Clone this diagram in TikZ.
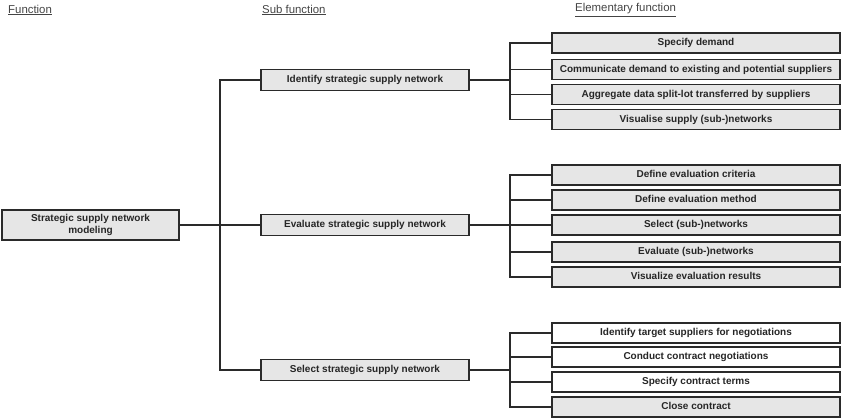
\documentclass[tikz,border=0pt]{standalone}
\usepackage{fontspec}
\setmainfont{Liberation Sans}
\usetikzlibrary{shadows,calc}
\definecolor{boxfill}{HTML}{E6E6E6}
\definecolor{boxline}{HTML}{2A2A2A}
\definecolor{headgray}{HTML}{444444}
\begin{document}
\begin{tikzpicture}[x=1pt,y=-1pt,
  box/.style={draw=boxline,line width=1.2pt,fill=boxfill,inner sep=0pt,
    font=\fontsize{10}{11.5}\selectfont\bfseries,text=black!85,align=center,
    drop shadow={shadow xshift=0.9pt,shadow yshift=-0.9pt,fill=black,opacity=0.6}},
  mainbox/.style={box,minimum width=177pt,minimum height=30pt},
  subbox/.style={box,minimum width=208pt,minimum height=21pt,text height=7.4pt,text depth=2pt},
  elbox/.style={box,minimum width=288pt,minimum height=20pt,text height=7.4pt,text depth=2pt},
  wbox/.style={elbox,fill=white},
  head/.style={font=\fontsize{11.4}{13}\selectfont,text=headgray,anchor=west,inner sep=0pt},
  conn/.style={draw=boxline,line width=1.2pt}]
\useasboundingbox (0,0) rectangle (850,417);
\node[head] (h1) at (8,10) {\underline{Function}};
\node[head] (h2) at (262,10) {\underline{Sub function}};
\node[head] (h3) at (575,10) {\underline{Elementary function}};
\node[mainbox] (main) at (90.5,225) {Strategic supply network\\modeling};
\node[subbox] (s1) at (365,80) {Identify strategic supply network};
\node[subbox] (s2) at (365,225) {Evaluate strategic supply network};
\node[subbox] (s3) at (365,370) {Select strategic supply network};
\node[elbox] (e11) at (696,43) {Specify demand};
\node[elbox] (e12) at (696,69.5) {Communicate demand to existing and potential suppliers};
\node[elbox] (e13) at (696,94.5) {Aggregate data split-lot transferred by suppliers};
\node[elbox] (e14) at (696,119.5) {Visualise supply (sub-)networks};
\node[elbox] (e21) at (696,175) {Define evaluation criteria};
\node[elbox] (e22) at (696,200) {Define evaluation method};
\node[elbox] (e23) at (696,225) {Select (sub-)networks};
\node[elbox] (e24) at (696,252) {Evaluate (sub-)networks};
\node[elbox] (e25) at (696,277) {Visualize evaluation results};
\node[wbox] (e31) at (696,333) {Identify target suppliers for negotiations};
\node[wbox] (e32) at (696,357) {Conduct contract negotiations};
\node[wbox] (e33) at (696,382) {Specify contract terms};
\node[elbox] (e34) at (696,407) {Close contract};
\coordinate (tr) at (220,0);
\coordinate (br) at (510,0);
\draw[conn] (main.east) -- (s2.west);
\draw[conn] (s1.west) -| (tr |- s3.west) -- (s3.west);
\draw[conn] (s1.east) -- (br |- s1.east);
\draw[conn] (s2.east) -- (br |- s2.east);
\draw[conn] (s3.east) -- (br |- s3.east);
\draw[conn] (e11.west) -| (br |- e14.west) -- (e14.west);
\draw[conn] (br |- e12.west) -- (e12.west);
\draw[conn] (br |- e13.west) -- (e13.west);
\draw[conn] (e21.west) -| (br |- e25.west) -- (e25.west);
\draw[conn] (br |- e22.west) -- (e22.west);
\draw[conn] (br |- e23.west) -- (e23.west);
\draw[conn] (br |- e24.west) -- (e24.west);
\draw[conn] (e31.west) -| (br |- e34.west) -- (e34.west);
\draw[conn] (br |- e32.west) -- (e32.west);
\draw[conn] (br |- e33.west) -- (e33.west);
\end{tikzpicture}
\end{document}
